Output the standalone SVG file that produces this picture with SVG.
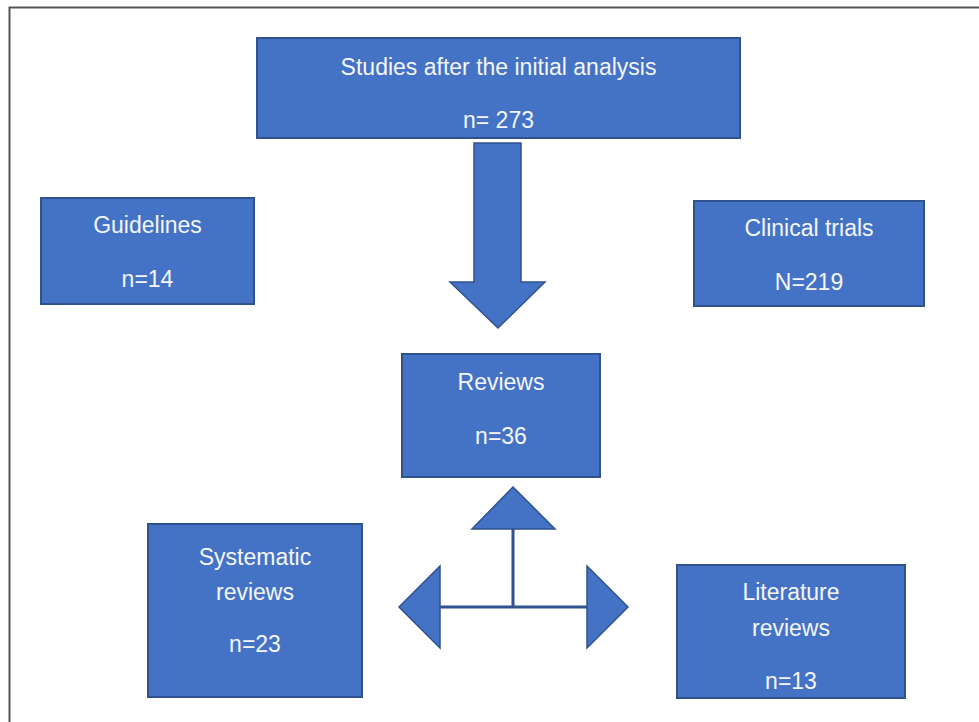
<svg xmlns="http://www.w3.org/2000/svg" width="979" height="722" viewBox="0 0 979 722">
<style>
.box{fill:#4472C4;stroke:#2F528F;stroke-width:2}
.shape{fill:#4472C4;stroke:#2F528F;stroke-width:1.5;stroke-linejoin:miter}
.line{fill:none;stroke:#2F528F;stroke-width:3}
.t{fill:#F4F6FB;font-family:"Liberation Sans",Arial,sans-serif;font-size:23px;text-anchor:middle}
</style>
<rect width="979" height="722" fill="#FFFFFF"/>
<path d="M9.5 722 V7.5 H979" fill="none" stroke="#555" stroke-width="2"/>
<g id="studies">
<rect class="box" x="257" y="38" width="483" height="100"/>
<text class="t" x="498.5" y="75">Studies after the initial analysis</text>
<text class="t" x="498.5" y="128">n= 273</text>
</g>
<g id="guidelines">
<rect class="box" x="41" y="198" width="213" height="106"/>
<text class="t" x="147.5" y="233">Guidelines</text>
<text class="t" x="147.5" y="287">n=14</text>
</g>
<g id="clinical">
<rect class="box" x="694" y="201" width="230" height="105"/>
<text class="t" x="809" y="236">Clinical trials</text>
<text class="t" x="809" y="290">N=219</text>
</g>
<g id="reviews">
<rect class="box" x="402" y="354" width="198" height="123"/>
<text class="t" x="501" y="390">Reviews</text>
<text class="t" x="501" y="444">n=36</text>
</g>
<g id="systematic">
<rect class="box" x="148" y="524" width="214" height="173"/>
<text class="t" x="255" y="565">Systematic</text>
<text class="t" x="255" y="600">reviews</text>
<text class="t" x="255" y="652">n=23</text>
</g>
<g id="literature">
<rect class="box" x="677" y="565" width="228" height="133"/>
<text class="t" x="791" y="600">Literature</text>
<text class="t" x="791" y="636">reviews</text>
<text class="t" x="791" y="689">n=13</text>
</g>
<g id="connectors">
<path class="shape" d="M474 143 H521 V282 H545 L498 328 L450 282 H474 Z"/>
<path class="line" d="M513 528 V607 M440 607 H587"/>
<path class="shape" d="M513 487 L555 529 H472 Z"/>
<path class="shape" d="M399 607 L440 566 V648 Z"/>
<path class="shape" d="M628 607 L587 566 V648 Z"/>
</g>
</svg>
